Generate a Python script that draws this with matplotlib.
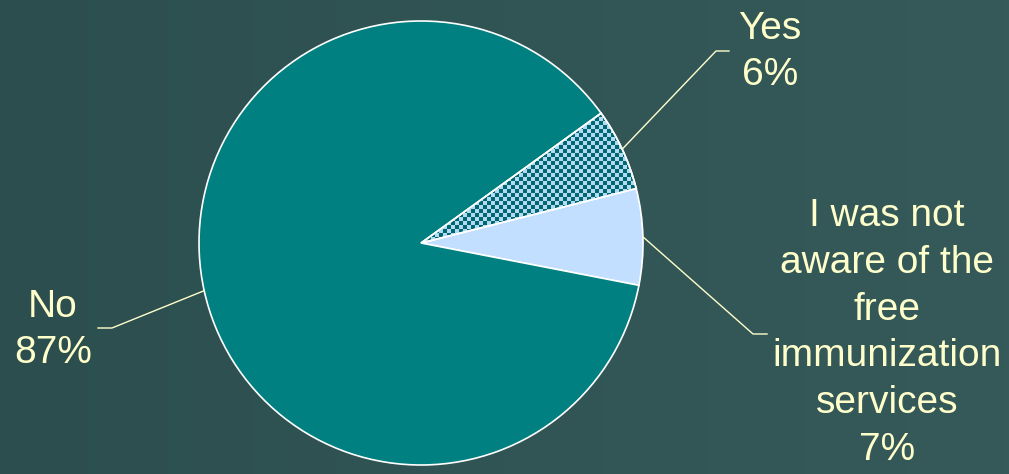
import numpy as np
import matplotlib.pyplot as plt
from matplotlib.colors import LinearSegmentedColormap
from matplotlib.patches import Wedge

# Slices, counterclockwise from the right side
labels = ['I was not\naware of the\nfree\nimmunization\nservices', 'Yes', 'No']
shares = [7, 6, 87]
colors = ['#C2DFFF', '#00686A', '#008080']

# label text centres and leader elbows, in pixel coords (y up)
label_pos = [(887, 141), (770, 422), (53, 144)]
elbows = [((753, 140), (767, 140)), ((716, 423), (729, 423)), ((112, 146), (98, 146))]

W, H = 1009, 474
txt_col = '#FFFFCC'

fig = plt.figure(figsize=(W / 100, H / 100), dpi=100)
ax = fig.add_axes([0, 0, 1, 1])

# dark teal background with a faint left-right gradient
grad = np.linspace(0, 1, 256).reshape(1, -1)
bg = LinearSegmentedColormap.from_list('bg', ['#2C4E4E', '#365A5A'])
ax.imshow(grad, extent=[0, W, 0, H], cmap=bg, aspect='auto', zorder=0)

cx, cy, r = 421, 231, 222
wedges, _ = ax.pie(shares, colors=colors, startangle=-11, center=(cx, cy), radius=r,
                   wedgeprops=dict(edgecolor='white', linewidth=1.2, zorder=1), frame=True)

# dotted texture on the "Yes" slice
wy = wedges[1]
xs, ys = np.meshgrid(np.arange(cx, cx + r + 8, 8.0), np.arange(cy, cy + r + 4, 4.0))
xs = xs + (np.arange(xs.shape[0])[:, None] % 2) * 4
dots = ax.scatter(xs.ravel(), ys.ravel(), marker='s', s=7, color='#B2DAF8',
                  linewidths=0, zorder=2)
dots.set_clip_path(wy)
ax.add_patch(Wedge((cx, cy), r, wy.theta1, wy.theta2, facecolor='none',
                   edgecolor='white', linewidth=1.2, zorder=3))

# labels with leader lines
for w, lab, pct, (tx, ty), (p1, p2) in zip(wedges, labels, shares, label_pos, elbows):
    a = np.deg2rad((w.theta1 + w.theta2) / 2)
    x0, y0 = cx + r * np.cos(a), cy + r * np.sin(a)
    ax.plot([x0, p1[0], p2[0]], [y0, p1[1], p2[1]], color=txt_col, lw=1, zorder=4)
    ax.text(tx, ty, f'{lab}\n{pct}%', ha='center', va='center', color=txt_col,
            fontsize=28, family='Liberation Sans', linespacing=1.38, zorder=5)

ax.set_xlim(0, W)
ax.set_ylim(0, H)
ax.axis('off')

fig.savefig('out.png', dpi=100)
